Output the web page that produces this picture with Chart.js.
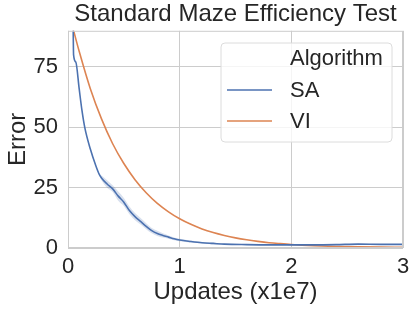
<!DOCTYPE html>
<html>
<head>
<meta charset="utf-8">
<script src="https://cdn.jsdelivr.net/npm/chart.js@4"></script>
<style>
  html, body { margin: 0; padding: 0; background: #fff; }
  #wrap { width: 416px; height: 312px; }
</style>
</head>
<body>
<div id="wrap"><canvas id="mazeChart" width="416" height="312"></canvas></div>
<script>
// values
const saX =    [0.045, 0.05, 0.07, 0.10, 0.125, 0.15, 0.20, 0.25, 0.28, 0.30, 0.35, 0.40, 0.45, 0.50, 0.55, 0.60, 0.65, 0.70, 0.75, 0.80, 0.85, 0.90, 0.95, 1.00, 1.10, 1.20, 1.30, 1.40, 1.60, 1.80, 2.00, 2.20, 2.40, 2.60, 2.80, 3.00];
const saY =    [96, 80, 77, 66, 57, 50, 41, 34, 30.5, 29, 26.5, 24.5, 21.5, 19, 15.5, 13, 11, 9, 7.2, 6, 5.2, 4.5, 3.8, 3.3, 2.7, 2.2, 1.9, 1.6, 1.4, 1.3, 1.3, 1.3, 1.4, 1.6, 1.5, 1.5];
const saLow =  [96, 80, 77, 66, 57, 50, 41, 34, 30.2, 28.1, 25.0, 23.2, 19.6, 17.4, 14.0, 11.5, 9.7, 7.8, 6.1, 5.0, 4.3, 3.8, 3.2, 2.8, 2.3, 1.9, 1.6, 1.4, 1.2, 1.1, 1.1, 1.1, 1.2, 1.4, 1.3, 1.3];
const saHigh = [96, 80, 77, 66, 57, 50, 41, 34, 30.8, 30.0, 28.1, 26.0, 23.4, 20.7, 17.2, 14.5, 12.4, 10.3, 8.3, 7.1, 6.1, 5.2, 4.4, 3.8, 3.1, 2.5, 2.2, 1.8, 1.6, 1.5, 1.5, 1.5, 1.6, 1.8, 1.7, 1.7];

const viX = [0.045, 0.10, 0.20, 0.30, 0.40, 0.50, 0.60, 0.70, 0.80, 0.90, 1.00, 1.10, 1.20, 1.30, 1.40, 1.50, 1.60, 1.70, 1.80, 1.90, 2.00, 2.20, 2.40, 2.60, 2.80, 3.00];
const viY = [91, 81.5, 66, 53.5, 43.2, 35, 28.3, 22.9, 18.5, 15, 12.1, 9.8, 7.9, 6.4, 5.2, 4.2, 3.4, 2.75, 2.2, 1.8, 1.45, 0.95, 0.62, 0.45, 0.35, 0.3];

const xTicks = [0, 1, 2, 3];
const yTicks = [0, 25, 50, 75];
const seriesNames = ['SA', 'VI'];
const legendTitle = 'Algorithm';

const blue = '#4c72b0';
const orange = '#dd8452';
const font = '"Liberation Sans", Arial, sans-serif';

const pts = (xs, ys) => xs.map((x, i) => ({ x: x, y: ys[i] }));

// frame + seaborn style legend
const decor = {
    id: 'decor',
    afterDraw(chart) {
        const c = chart.ctx;
        const a = chart.chartArea;
        c.save();
        c.strokeStyle = '#cccccc';
        c.lineWidth = 1;
        c.strokeRect(a.left + 0.5, a.top + 0.5, a.right - a.left - 1, a.bottom - a.top - 1);

        // legend box
        const bx = 221, by = 43, bw = 171, bh = 99, r = 4;
        c.beginPath();
        c.moveTo(bx + r, by);
        c.arcTo(bx + bw, by, bx + bw, by + bh, r);
        c.arcTo(bx + bw, by + bh, bx, by + bh, r);
        c.arcTo(bx, by + bh, bx, by, r);
        c.arcTo(bx, by, bx + bw, by, r);
        c.closePath();
        c.fillStyle = 'rgba(255,255,255,0.8)';
        c.fill();
        c.strokeStyle = '#dcdcdc';
        c.stroke();

        c.font = '22px ' + font;
        c.fillStyle = '#262626';
        c.textBaseline = 'middle';
        c.textAlign = 'left';
        c.fillText(legendTitle, 290, 59);
        const colors = [blue, orange];
        const rows = [90, 121];
        seriesNames.forEach((name, i) => {
            c.strokeStyle = colors[i];
            c.lineWidth = 1.5;
            c.beginPath();
            c.moveTo(227, rows[i]);
            c.lineTo(272, rows[i]);
            c.stroke();
            c.fillStyle = '#262626';
            c.fillText(name, 290, rows[i] + 1);
        });
        c.restore();
    }
};

new Chart(document.getElementById('mazeChart'), {
    type: 'line',
    data: {
        datasets: [
            {
                label: 'saLow',
                data: pts(saX, saLow),
                borderWidth: 0,
                pointRadius: 0,
                fill: false,
                cubicInterpolationMode: 'monotone'
            },
            {
                label: 'saHigh',
                data: pts(saX, saHigh),
                borderWidth: 0,
                pointRadius: 0,
                fill: '-1',
                backgroundColor: 'rgba(76,114,176,0.22)',
                cubicInterpolationMode: 'monotone'
            },
            {
                label: seriesNames[0],
                data: pts(saX, saY),
                borderColor: blue,
                borderWidth: 1.6,
                pointRadius: 0,
                fill: false,
                cubicInterpolationMode: 'monotone'
            },
            {
                label: seriesNames[1],
                data: pts(viX, viY),
                borderColor: orange,
                borderWidth: 1.6,
                pointRadius: 0,
                fill: false,
                cubicInterpolationMode: 'monotone'
            }
        ]
    },
    options: {
        responsive: false,
        animation: false,
        layout: { padding: { left: 0, right: 13, top: 0, bottom: 0 } },
        plugins: {
            legend: { display: false },
            tooltip: { enabled: false },
            title: {
                display: true,
                text: 'Standard Maze Efficiency Test',
                fullSize: false,
                color: '#262626',
                font: { family: font, size: 24, weight: 'normal' },
                padding: { top: 0, bottom: 2 }
            }
        },
        scales: {
            x: {
                type: 'linear',
                min: 0,
                max: 3,
                afterBuildTicks: s => { s.ticks = xTicks.map(v => ({ value: v })); },
                afterFit: s => { s.height = 64; },
                grid: { color: '#cccccc', drawTicks: false },
                border: { display: false },
                ticks: { color: '#262626', padding: 6, font: { family: font, size: 22 } },
                title: {
                    display: true,
                    text: 'Updates (x1e7)',
                    color: '#262626',
                    font: { family: font, size: 24 },
                    padding: { top: 0, bottom: 5 }
                }
            },
            y: {
                min: 0,
                max: 90,
                afterBuildTicks: s => { s.ticks = yTicks.map(v => ({ value: v })); },
                afterFit: s => { s.width = 68; },
                grid: { color: '#cccccc', drawTicks: false },
                border: { display: false },
                ticks: { color: '#262626', padding: 10, font: { family: font, size: 22 } },
                title: {
                    display: true,
                    text: 'Error',
                    color: '#262626',
                    font: { family: font, size: 24 },
                    padding: { top: 4, bottom: 0 }
                }
            }
        }
    },
    plugins: [decor]
});
</script>
</body>
</html>
